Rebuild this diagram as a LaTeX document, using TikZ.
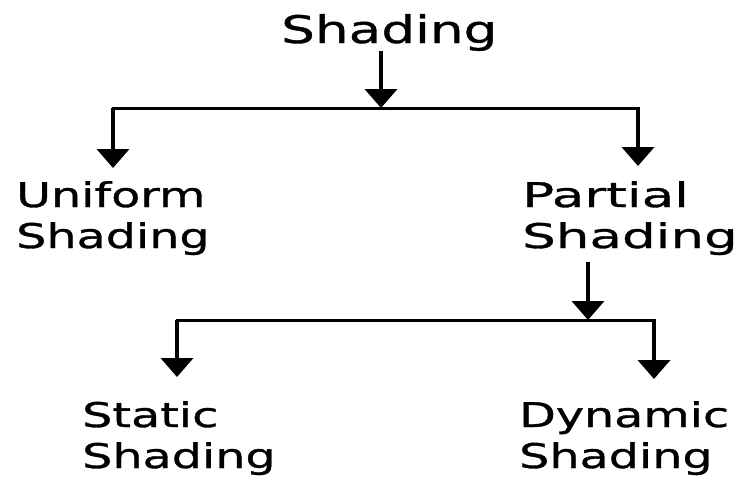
\documentclass[tikz,border=0pt]{standalone}
\usepackage{fontspec}
\usetikzlibrary{arrows.meta}
% Wide sans faces for the labels
\newfontfamily\widesans[FakeStretch=1.4,FakeBold=1]{DejaVu Sans}
\newfontfamily\widersans[FakeStretch=1.56,FakeBold=1]{DejaVu Sans}
\begin{document}
\begin{tikzpicture}[x=1pt,y=-1pt,
  label/.style={inner sep=0pt, anchor=base west, align=left,
    font=\widesans\fontsize{34}{41}\selectfont},
  widelabel/.style={label, font=\widersans\fontsize{34}{41}\selectfont},
  toplabel/.style={label, font=\widesans\fontsize{38}{45}\selectfont},
  bar/.style={line width=3pt, line cap=rect},
  link/.style={line width=4pt, -{Triangle[width=32pt,length=19pt]}}]
  \fill[white] (0,0) rectangle (748,480);
  \useasboundingbox (0,0) rectangle (748,480);

  % labels (anchored at the baseline of the last line)
  \node[toplabel] (root) at (281,43) {Shading};
  \node[label] (uniform) at (16,248) {Uniform\\Shading};
  \node[widelabel] (partial) at (522,248) {Partial\\Shading};
  \node[label] (static) at (82,468) {Static\\Shading};
  \node[label] (dynamic) at (519,468) {Dynamic\\Shading};

  % junctions and arrow tips
  \coordinate (j1) at (381,108);
  \coordinate (l1) at (113,108);
  \coordinate (r1) at (638,108);
  \coordinate (t1) at (113,168);
  \coordinate (t2) at (638,166);
  \coordinate (j2) at (588,320);
  \coordinate (l2) at (177,320);
  \coordinate (r2) at (654,320);
  \coordinate (t3) at (177,377);
  \coordinate (t4) at (654,379);

  % first level
  \draw[bar] (l1) -- (r1);
  \draw[link] (root.south -| j1) -- (j1);
  \draw[link] (l1) -- (t1);
  \draw[link] (r1) -- (t2);

  % second level
  \draw[bar] (l2) -- (r2);
  \draw[link] ([yshift=-7pt]partial.south -| j2) -- (j2);
  \draw[link] (l2) -- (t3);
  \draw[link] (r2) -- (t4);
\end{tikzpicture}
\end{document}
